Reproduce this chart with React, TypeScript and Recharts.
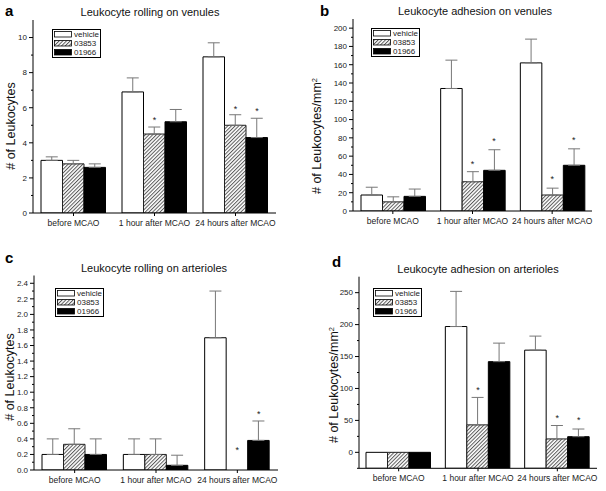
import React from 'react';
import { BarChart, Bar, XAxis, YAxis, ErrorBar, ReferenceDot, Legend } from 'recharts';

const categories = ['before MCAO', '1 hour after MCAO', '24 hours after MCAO'];
const seriesNames = ['vehicle', '03853', '01966'];
const noStars = [null, null, null];

// Panel a: Leukocyte rolling on venules
const aVehicle = [3.0, 6.9, 8.9];
const aVehicleErr = [0.2, 0.8, 0.8];
const a03853 = [2.8, 4.5, 5.0];
const a03853Err = [0.2, 0.4, 0.6];
const a01966 = [2.6, 5.2, 4.3];
const a01966Err = [0.2, 0.7, 1.1];
const aStar03853 = [null, 5.4, 6.05];
const aStar01966 = [null, null, 5.9];
const aMajorTicks = [0, 2, 4, 6, 8, 10];
const aMinorTicks = [1, 3, 5, 7, 9];

// Panel b: Leukocyte adhesion on venules
const bVehicle = [17.5, 134, 162];
const bVehicleErr = [8.5, 31, 26];
const b03853 = [10, 32, 17.5];
const b03853Err = [5.5, 11, 7.5];
const b01966 = [16, 44.5, 50];
const b01966Err = [8, 22.5, 18];
const bStar03853 = [null, 54, 37];
const bStar01966 = [null, 78.5, 80];
const bMajorTicks = [0, 20, 40, 60, 80, 100, 120, 140, 160, 180, 200];
const bMinorTicks = [10, 30, 50, 70, 90, 110, 130, 150, 170, 190];

// Panel c: Leukocyte rolling on arterioles
const cVehicle = [0.2, 0.2, 1.7];
const cVehicleErr = [0.2, 0.2, 0.6];
const c03853 = [0.33, 0.2, 0];
const c03853Err = [0.2, 0.2, 0];
const c01966 = [0.2, 0.06, 0.38];
const c01966Err = [0.2, 0.13, 0.25];
const cStar03853 = [null, null, 0.28];
const cStar01966 = [null, null, 0.75];
const cMajorTicks = [0, 0.2, 0.4, 0.6, 0.8, 1.0, 1.2, 1.4, 1.6, 1.8, 2.0, 2.2, 2.4];
const cMinorTicks = [0.1, 0.3, 0.5, 0.7, 0.9, 1.1, 1.3, 1.5, 1.7, 1.9, 2.1, 2.3];

// Panel d: Leukocyte adhesion on arterioles
const dVehicle = [0, 197, 160];
const dVehicleErr = [0, 55, 22];
const d03853 = [0, 43, 21];
const d03853Err = [0, 43, 21];
const d01966 = [0, 142, 24.5];
const d01966Err = [0, 29, 12];
const dStar03853 = [null, 101, 57];
const dStar01966 = [null, null, 53];
const dMajorTicks = [0, 50, 100, 150, 200, 250];
const dMinorTicks = [-25, 25, 75, 125, 175, 225];

const FONT = '"Liberation Sans", Arial, Helvetica, sans-serif';
const BAR = 21.5;
const XH = 20;
const Y_TICK_SIZE = 4;
const Y_TICK_MARGIN = 2;

const panels = [
  {
    id: 'a', left: 0, top: 0, h: 245,
    plot: { left: 33, right: 276, top: 20, bottom: 213 },
    domain: [0, 11],
    values: [aVehicle, a03853, a01966],
    errs: [aVehicleErr, a03853Err, a01966Err],
    stars: [noStars, aStar03853, aStar01966],
    major: aMajorTicks, minor: aMinorTicks,
    fmt: (v: number) => String(v),
    legend: [52, 29],
  },
  {
    id: 'b', left: 303, top: 0, h: 245,
    plot: { left: 50, right: 289, top: 19, bottom: 211 },
    domain: [0, 210],
    values: [bVehicle, b03853, b01966],
    errs: [bVehicleErr, b03853Err, b01966Err],
    stars: [noStars, bStar03853, bStar01966],
    major: bMajorTicks, minor: bMinorTicks,
    fmt: (v: number) => String(v),
    legend: [68, 28],
  },
  {
    id: 'c', left: 0, top: 245, h: 246,
    plot: { left: 34, right: 278, top: 30.5, bottom: 225 },
    domain: [0, 2.5],
    values: [cVehicle, c03853, c01966],
    errs: [cVehicleErr, c03853Err, c01966Err],
    stars: [noStars, cStar03853, cStar01966],
    major: cMajorTicks, minor: cMinorTicks,
    fmt: (v: number) => v.toFixed(1),
    legend: [55, 43],
  },
  {
    id: 'd', left: 303, top: 245, h: 246,
    plot: { left: 56, right: 294, top: 31.7, bottom: 223.3 },
    domain: [-25, 275],
    values: [dVehicle, d03853, d01966],
    errs: [dVehicleErr, d03853Err, d01966Err],
    stars: [noStars, dStar03853, dStar01966],
    major: dMajorTicks, minor: dMinorTicks,
    fmt: (v: number) => String(v),
    legend: [70, 43],
  },
];

function makeYTick(major: number[], fmt: (v: number) => string) {
  return (props: any) => {
    const { x, y, payload } = props;
    const v = payload.value;
    const isMajor = major.some((m) => Math.abs(m - v) < 1e-9);
    const ax = x + Y_TICK_MARGIN + Y_TICK_SIZE;
    return (
      <g>
        <line x1={ax - (isMajor ? 4 : 2)} x2={ax} y1={y} y2={y} stroke="#000" strokeWidth={1} />
        {isMajor && (
          <text x={x} y={y} dy="0.35em" textAnchor="end" fontSize={8} fill="#222">
            {fmt(v)}
          </text>
        )}
      </g>
    );
  };
}

function LegendBox({ payload }: any) {
  const items = [...(payload || [])].sort(
    (p: any, q: any) => seriesNames.indexOf(p.value) - seriesNames.indexOf(q.value)
  );
  return (
    <svg width={49} height={29} style={{ display: 'block' }}>
      <rect x={0.5} y={0.5} width={48} height={28} fill="#fff" stroke="#000" strokeWidth={1} />
      {items.map((p: any, i: number) => (
        <g key={i}>
          <rect x={2.5} y={2.5 + i * 9} width={17} height={5.5} fill={p.color} stroke="#000" strokeWidth={0.8} />
          <text x={22} y={2.5 + i * 9 + 5.8} fontSize={8} fill="#222" fontFamily={FONT}>
            {p.value}
          </text>
        </g>
      ))}
    </svg>
  );
}

function Panel({ cfg }: any) {
  const base = cfg.domain[0];
  const data = categories.map((cat, i) => {
    const row: any = { cat };
    cfg.values.forEach((vals: number[], k: number) => {
      row[`v${k}`] = [base, vals[i]];
      const e = cfg.errs[k][i];
      row[`e${k}`] = e ? [0, e] : null;
    });
    return row;
  });
  const hatchId = `hatch-${cfg.id}`;
  const fills = ['#ffffff', `url(#${hatchId})`, '#000000'];
  const strokes = ['#000', '#222', '#000'];
  const YTick = makeYTick(cfg.major, cfg.fmt);
  const ticks = [...cfg.major, ...cfg.minor].sort((p, q) => p - q);
  return (
    <div style={{ position: 'absolute', left: cfg.left, top: cfg.top, width: 303, height: cfg.h }}>
      <BarChart
        width={303}
        height={cfg.h}
        data={data}
        margin={{ top: cfg.plot.top, right: 303 - cfg.plot.right, left: 0, bottom: cfg.h - cfg.plot.bottom - XH }}
        barGap={0}
        barSize={BAR}
      >
        <defs>
          <pattern id={hatchId} width={2.6} height={2.6} patternUnits="userSpaceOnUse" patternTransform="rotate(45)">
            <rect width={2.6} height={2.6} fill="#fff" />
            <line x1={0.5} y1={0} x2={0.5} y2={2.6} stroke="#5a5a5a" strokeWidth={1} />
          </pattern>
        </defs>
        <XAxis
          dataKey="cat"
          height={XH}
          interval={0}
          stroke="#000"
          tickSize={3}
          tickMargin={4}
          tick={{ fontSize: 8.5, fill: '#222' }}
        />
        <YAxis
          type="number"
          width={cfg.plot.left}
          domain={cfg.domain}
          ticks={ticks}
          interval={0}
          stroke="#000"
          tickLine={false}
          tickSize={Y_TICK_SIZE}
          tickMargin={Y_TICK_MARGIN}
          tick={YTick}
          allowDataOverflow
        />
        {seriesNames.map((name, k) => (
          <Bar
            key={name}
            dataKey={`v${k}`}
            name={name}
            fill={fills[k]}
            stroke={strokes[k]}
            strokeWidth={1}
            isAnimationActive={false}
          >
            <ErrorBar dataKey={`e${k}`} direction="y" width={6} stroke="#777" strokeWidth={1} />
          </Bar>
        ))}
        {cfg.stars.map((arr: (number | null)[], k: number) =>
          arr.map((s, i) =>
            s == null ? null : (
              <ReferenceDot
                key={`star-${k}-${i}`}
                x={categories[i]}
                y={s}
                r={0}
                ifOverflow="visible"
                shape={(p: any) => (
                  <text x={p.cx + (k - 1) * BAR} y={p.cy + 5} textAnchor="middle" fontSize={9} fill="#222">
                    *
                  </text>
                )}
              />
            )
          )
        )}
        <Legend
          layout="vertical"
          align="center"
          verticalAlign="middle"
          wrapperStyle={{ left: cfg.legend[0], top: cfg.legend[1], width: 49, height: 29, lineHeight: 0 }}
          content={(props: any) => <LegendBox payload={props.payload} />}
        />
      </BarChart>
    </div>
  );
}

export default function App() {
  const titleStyle = { fontSize: 11, fill: '#111' };
  return (
    <div
      style={{
        position: 'absolute',
        left: 0,
        top: 0,
        width: 606,
        height: 491,
        background: '#fff',
        fontFamily: FONT,
        overflow: 'hidden',
      }}
    >
      {panels.map((cfg) => (
        <Panel key={cfg.id} cfg={cfg} />
      ))}
      <svg
        width={606}
        height={491}
        style={{ position: 'absolute', left: 0, top: 0, pointerEvents: 'none' }}
        fontFamily={FONT}
      >
        <text x={5} y={16} fontSize={15} fontWeight="bold" fill="#000">a</text>
        <text x={320} y={16} fontSize={15} fontWeight="bold" fill="#000">b</text>
        <text x={5} y={263} fontSize={15} fontWeight="bold" fill="#000">c</text>
        <text x={332} y={267} fontSize={15} fontWeight="bold" fill="#000">d</text>

        <text x={150} y={15.5} textAnchor="middle" {...titleStyle}>Leukocyte rolling on venules</text>
        <text x={475} y={15} textAnchor="middle" {...titleStyle}>Leukocyte adhesion on venules</text>
        <text x={154} y={272} textAnchor="middle" {...titleStyle}>Leukocyte rolling on arterioles</text>
        <text x={478} y={273} textAnchor="middle" {...titleStyle}>Leukocyte adhesion on arterioles</text>

        <text x={14.5} y={126} textAnchor="middle" fontSize={12.5} fill="#111" transform="rotate(-90 14.5 126)">
          # of Leukocytes
        </text>
        <text x={321} y={136} textAnchor="middle" fontSize={12.5} fill="#111" transform="rotate(-90 321 136)">
          # of Leukocytes/mm<tspan dy="-0.5em" fontSize="0.6em">2</tspan>
        </text>
        <text x={13.5} y={377} textAnchor="middle" fontSize={12.5} fill="#111" transform="rotate(-90 13.5 377)">
          # of Leukocytes
        </text>
        <text x={338} y={385} textAnchor="middle" fontSize={12.5} fill="#111" transform="rotate(-90 338 385)">
          # of Leukocytes/mm<tspan dy="-0.5em" fontSize="0.6em">2</tspan>
        </text>
      </svg>
    </div>
  );
}
